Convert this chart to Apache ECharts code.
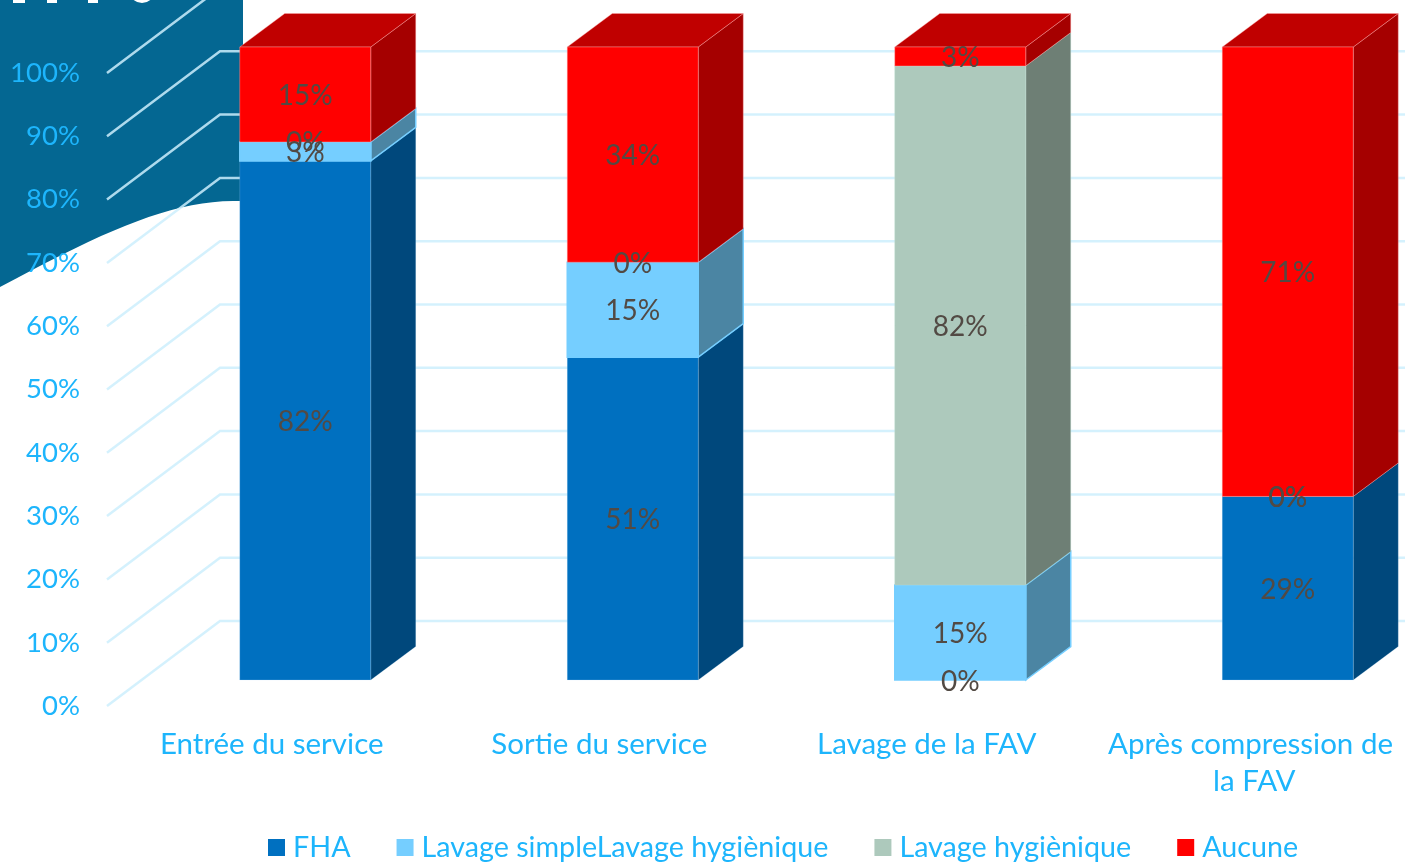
<!DOCTYPE html>
<html>
<head>
<meta charset="utf-8">
<style>html,body{margin:0;padding:0;background:#fff}#c{width:1405px;height:866px}</style>
<script src="https://cdn.jsdelivr.net/npm/echarts@6/dist/echarts.min.js"></script>
</head>
<body>
<div id="c"></div>
<script>
const categories = ['Entrée du service', 'Sortie du service', 'Lavage de la FAV', 'Après compression de la FAV'];
const fha = [82, 51, 0, 29];
const lavageSimple = [3, 15, 15, 0];
const lavageHygieniqueA = [0, 0, 82, 0];
const aucune = [15, 34, 3, 71];
const ticks = [0, 10, 20, 30, 40, 50, 60, 70, 80, 90, 100];
const seriesNames = ['FHA', 'Lavage simpleLavage hygiènique', 'Lavage hygiènique', 'Aucune'];

const FONT = 'Lato';
const BLUE_TXT = '#1DB5FC';
const LABEL = '#524A44';
const palette = [
  { front: '#0070C0', side: '#00487C', stroke: 'rgba(190,225,250,0.2)', sw: 1 },
  { front: '#75CEFF', side: '#4B85A3', stroke: '#75CEFF', sw: 1.5 },
  { front: '#ADC9BC', side: '#6E7F75', stroke: 'rgba(190,225,210,0.4)', sw: 1 },
  { front: '#FF0000', side: '#A50000', top: '#C00000', stroke: 'rgba(255,170,170,0.4)', sw: 1 }
];
// oblique projection: bar front plane and depth, relative to the axis plane
const OFF_X = 33.5, OFF_Y = -26, DEPTH_X = 45, DEPTH_Y = -33.5, WALL_X = 112, WALL_Y = -85;

function poly(points, fill, p, z2) {
  return { type: 'polygon', z2: z2, shape: { points: points },
    style: { fill: fill, stroke: p.stroke, lineWidth: p.sw } };
}
function stackSeries(index, values, below) {
  const data = values.map((v, i) => [i, below[i], below[i] + v, v]);
  const p = palette[index];
  return {
    type: 'custom', name: seriesNames[index], clip: false, z: 3,
    itemStyle: { color: p.front },
    encode: { x: 0, y: [1, 2] },
    data: data,
    renderItem(params, api) {
      const c = api.value(0), lo = api.coord([c, api.value(1)]), hi = api.coord([c, api.value(2)]);
      const w = api.size([1, 0])[0] * 0.4;
      const x0 = lo[0] + OFF_X - w / 2, x1 = x0 + w;
      const y0 = lo[1] + OFF_Y, y1 = hi[1] + OFF_Y;
      const kids = [];
      if (api.value(3) > 0) {
        kids.push(poly([[x1, y0], [x1 + DEPTH_X, y0 + DEPTH_Y], [x1 + DEPTH_X, y1 + DEPTH_Y], [x1, y1]], p.side, p, 1));
        if (p.top) kids.push(poly([[x0, y1], [x0 + DEPTH_X, y1 + DEPTH_Y], [x1 + DEPTH_X, y1 + DEPTH_Y], [x1, y1]], p.top, p, 1));
        kids.push(poly([[x0, y0], [x1, y0], [x1, y1], [x0, y1]], p.front, p, 2));
      }
      kids.push({ type: 'text', z2: 100, style: {
        text: api.value(3) + '%', x: (x0 + x1) / 2, y: (y0 + y1) / 2 + 1.5,
        fill: LABEL, font: '28px ' + FONT, align: 'center', verticalAlign: 'middle' } });
      return { type: 'group', children: kids };
    }
  };
}
const b1 = fha;
const b2 = fha.map((v, i) => v + lavageSimple[i]);
const b3 = b2.map((v, i) => v + lavageHygieniqueA[i]);

const wallSeries = {
  type: 'custom', name: 'walls', clip: false, z: 1, silent: true,
  encode: { x: 0, y: 1 },
  data: ticks.map(t => [0, t]),
  renderItem(params, api) {
    const pt = api.coord([0, api.value(1)]);
    const x = params.coordSys.x, y = pt[1];
    return { type: 'polyline',
      shape: { points: [[x - 1, y], [x + WALL_X, y + WALL_Y], [x + params.coordSys.width, y + WALL_Y]] },
      style: { fill: 'none', stroke: 'rgba(205,238,253,0.85)', lineWidth: 2.5 } };
  }
};

// decorative slide corner behind the chart: bezier outline sampled to a polygon
function cornerShape() {
  const pts = [[0, 0], [243, 0], [243, 201]];
  const c = [[243, 201], [175, 199], [110, 228], [0, 287]];
  for (let t = 0.05; t <= 1.0001; t += 0.05) {
    const u = 1 - t;
    pts.push([
      u*u*u*c[0][0] + 3*u*u*t*c[1][0] + 3*u*t*t*c[2][0] + t*t*t*c[3][0],
      u*u*u*c[0][1] + 3*u*u*t*c[1][1] + 3*u*t*t*c[2][1] + t*t*t*c[3][1]
    ]);
  }
  return pts;
}

const chart = echarts.init(document.getElementById('c'), null, { renderer: 'canvas' });
chart.setOption({
  animation: false,
  backgroundColor: '#fff',
  graphic: { elements: [
    { type: 'polygon', z: -10, shape: { points: cornerShape() }, style: { fill: '#046792' } },
    { type: 'rect', z: -9, shape: { x: 13, y: 0, width: 12, height: 3 }, style: { fill: '#fff' } },
    { type: 'rect', z: -9, shape: { x: 47, y: 0, width: 10, height: 3 }, style: { fill: '#fff' } },
    { type: 'rect', z: -9, shape: { x: 88, y: 0, width: 10, height: 3 }, style: { fill: '#fff' } },
    { type: 'circle', z: -9, shape: { cx: 142, cy: -10, r: 13 }, style: { fill: '#fff' } }
  ] },
  grid: { left: 108, top: 73, width: 1310, height: 633, outerBoundsMode: 'none' },
  xAxis: {
    type: 'category', data: categories,
    axisLine: { show: false }, axisTick: { show: false }, splitLine: { show: false },
    axisLabel: { color: BLUE_TXT, fontFamily: FONT, fontSize: 29.5, margin: 20, lineHeight: 37,
      interval: 0, width: 310, overflow: 'break' }
  },
  yAxis: {
    type: 'value', min: 0, max: 100, interval: 10, z: 5,
    axisLine: { show: false }, axisTick: { show: false }, splitLine: { show: false },
    axisLabel: { color: BLUE_TXT, fontFamily: FONT, fontSize: 27.5, margin: 28, formatter: '{value}%' }
  },
  legend: {
    left: 263, top: 828, icon: 'rect', itemWidth: 17, itemHeight: 17, itemGap: 46, orient: 'horizontal',
    data: seriesNames, selectedMode: false,
    textStyle: { color: BLUE_TXT, fontFamily: FONT, fontSize: 28.7, padding: [0, 0, 0, 3] }
  },
  series: [
    wallSeries,
    stackSeries(0, fha, fha.map(() => 0)),
    stackSeries(1, lavageSimple, b1),
    stackSeries(2, lavageHygieniqueA, b2),
    stackSeries(3, aucune, b3)
  ]
});
</script>
</body>
</html>
